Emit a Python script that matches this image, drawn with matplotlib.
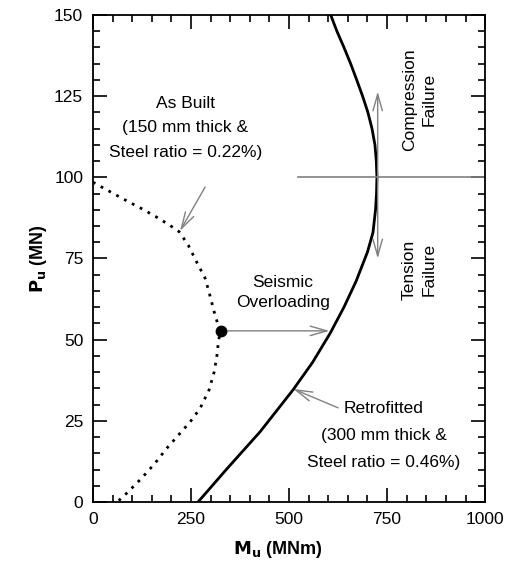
import numpy as np
import matplotlib.pyplot as plt
from matplotlib.ticker import MultipleLocator

plt.rcParams['font.family'] = ['Liberation Sans', 'DejaVu Sans']

# As built interaction curve (dotted)
built_m = [0, 13, 52, 90, 128, 167, 201, 220, 243, 264, 286, 298, 309, 319, 325,
           320, 316, 309, 296, 273, 248, 218, 188, 158, 124, 86, 62]
built_p = [98.5, 97.6, 95, 92.5, 90.1, 87.4, 84.8, 83.2, 79.1, 74, 68.9, 63.7, 58.6, 54.5, 52.7,
           49.5, 45, 40, 34.5, 28.8, 24.7, 20.6, 16.5, 11.9, 7.3, 2.7, 0]

# Retrofitted interaction curve (solid)
retro_m = [268, 340, 426, 510, 560, 605, 640, 671, 700, 714, 720.5, 723, 724,
           722.5, 719, 711.5, 701, 687.5, 672.5, 657, 640, 622, 603]
retro_p = [0, 10, 21.6, 34.5, 43, 52, 60, 68, 77, 83, 90, 95, 100,
           105, 110, 115, 120, 125, 130, 135, 140, 145, 151]

overload_pt = (326, 52.7)
overload_to = (603, 52.7)

fig = plt.figure(figsize=(5.08, 5.75), dpi=100)
ax = fig.add_axes([0.183, 0.127, 0.772, 0.847])

ax.plot(built_m, built_p, color='black', linestyle=(0, (1, 2.2)), linewidth=2)
ax.plot(retro_m, retro_p, color='black', linewidth=2)
ax.plot(*overload_pt, 'o', color='black', markersize=7.5, zorder=5)

grey = '#808080'
arr = dict(arrowstyle='->,head_length=0.6,head_width=0.17', color=grey, lw=1,
           mutation_scale=20, shrinkA=0, shrinkB=0)
ax.plot([523, 1000], [100, 100], color=grey, linewidth=1.2)
ax.annotate('', xy=(726, 126.4), xytext=(726, 100), arrowprops=arr)
ax.annotate('', xy=(726, 75), xytext=(726, 100), arrowprops=arr)
ax.annotate('', xy=overload_to, xytext=overload_pt, arrowprops=arr)
ax.annotate('', xy=(222, 83.5), xytext=(286, 97), arrowprops=arr)
ax.annotate('', xy=(511, 34.8), xytext=(625, 29), arrowprops=arr)

fs = 12.5
ax.text(235, 115.2, 'As Built\n(150 mm thick &\nSteel ratio = 0.22%)', ha='center', va='center',
        fontsize=fs, linespacing=1.8)
ax.text(485, 64.5, 'Seismic\nOverloading', ha='center', va='center', fontsize=fs, linespacing=1.35)
ax.text(742, 20.6, 'Retrofitted\n(300 mm thick &\nSteel ratio = 0.46%)', ha='center', va='center',
        fontsize=fs, linespacing=2.0)
ax.text(832, 124, 'Compression\nFailure', ha='center', va='center', rotation=90,
        fontsize=fs, linespacing=1.4)
ax.text(832, 71.5, 'Tension\nFailure', ha='center', va='center', rotation=90,
        fontsize=fs, linespacing=1.4)

ax.set_xlim(0, 1000)
ax.set_ylim(0, 150)
ax.xaxis.set_major_locator(MultipleLocator(250))
ax.xaxis.set_minor_locator(MultipleLocator(50))
ax.yaxis.set_major_locator(MultipleLocator(25))
ax.yaxis.set_minor_locator(MultipleLocator(5))
ax.tick_params(which='both', direction='in', top=True, right=True, labelsize=12.5, width=1.2)
ax.tick_params(which='major', length=10, pad=7)
ax.tick_params(which='minor', length=5)
for s in ax.spines.values():
    s.set_linewidth(1.3)

ax.set_xlabel(r'$\mathbf{M_u}$ (MNm)', fontsize=13, fontweight='bold')
ax.xaxis.set_label_coords(0.47, -0.075)
ax.set_ylabel(r'$\mathbf{P_u}$ (MN)', fontsize=13, fontweight='bold', labelpad=4)

fig.savefig('out.png', dpi=100)
